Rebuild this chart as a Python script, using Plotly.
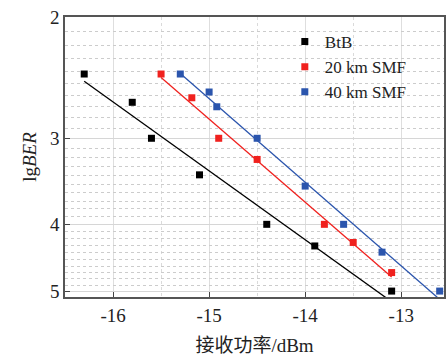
import numpy as np
import plotly.graph_objects as go

# Data (received power in dBm, -lgBER)
btb_x = [-16.3, -15.8, -15.6, -15.1, -14.4, -13.9, -13.1]
btb_y = [2.42, 2.66, 3.0, 3.39, 4.0, 4.30, 5.0]

smf20_x = [-15.5, -15.18, -14.9, -14.5, -13.8, -13.5, -13.1]
smf20_y = [2.42, 2.62, 3.0, 3.22, 4.0, 4.25, 4.70]

smf40_x = [-15.3, -15.0, -14.92, -14.5, -14.0, -13.6, -13.2, -12.6]
smf40_y = [2.42, 2.57, 2.70, 3.0, 3.52, 4.0, 4.39, 5.0]

series_names = ["BtB", "20 km SMF", "40 km SMF"]
series_colors = ["#000000", "#f0211e", "#2b55ad"]

x_ticks = [-16, -15, -14, -13]
x_tick_text = ["-16", "-15", "-14", "-13"]
y_ticks = [2, 3, 4, 5]
y_minor = [round(2 + 0.1 * i, 1) for i in range(31) if i % 10 != 0]

fig = go.Figure()

serif = "Times New Roman, Liberation Serif, serif"
yrange = [np.log10(5.1), np.log10(2)]

# invisible helper trace for the minor-grid axis
fig.add_trace(go.Scatter(x=[btb_x[0]], y=[btb_y[0]], yaxis="y2", mode="markers",
                         marker=dict(opacity=0), showlegend=False, hoverinfo="skip"))

for name, color, xs, ys in zip(series_names, series_colors,
                               [btb_x, smf20_x, smf40_x],
                               [btb_y, smf20_y, smf40_y]):
    xs = np.array(xs)
    ys = np.array(ys)
    k, b = np.polyfit(xs, np.log10(ys), 1)
    fx = np.linspace(xs.min(), xs.max(), 50)
    fy = 10 ** (k * fx + b)
    fig.add_trace(go.Scatter(x=fx, y=fy, mode="lines",
                             line=dict(color=color, width=1.3),
                             showlegend=False, hoverinfo="skip"))
    fig.add_trace(go.Scatter(x=xs, y=ys, mode="markers", name=name,
                             marker=dict(symbol="square", size=7, color=color),
                             cliponaxis=False))

fig.update_layout(
    width=446, height=356,
    margin=dict(l=65, r=0, t=17, b=59),
    plot_bgcolor="white", paper_bgcolor="white",
    font=dict(family=serif, size=18, color="#222"),
    legend=dict(x=0.58, y=0.975, xanchor="left", yanchor="top",
                bgcolor="rgba(0,0,0,0)", font=dict(size=17, family=serif),
                itemwidth=30, tracegroupgap=0),
    showlegend=True,
    xaxis=dict(
        range=[-16.5, -12.555], tickvals=x_ticks, ticktext=x_tick_text,
        ticks="inside", ticklen=5, tickwidth=1.2, tickcolor="#444",
        showline=True, linecolor="#555", linewidth=1.6, mirror=True,
        showgrid=True, gridcolor="#dedede", gridwidth=1,
        minor=dict(dtick=0.5, tick0=-16, showgrid=True, gridcolor="#dadada",
                   griddash="dot", gridwidth=1),
        zeroline=False,
        title=dict(text="接收功率/dBm",
                   font=dict(size=19, family="Times New Roman, Liberation Serif, Noto Sans CJK SC"),
                   standoff=14),
        tickfont=dict(size=19, family=serif),
    ),
    yaxis=dict(
        type="log", range=yrange,
        tickvals=y_ticks, ticktext=[str(v) for v in y_ticks],
        ticks="inside", ticklen=5, tickwidth=1.2, tickcolor="#444",
        showline=True, linecolor="#555", linewidth=1.6, mirror=True,
        showgrid=True, gridcolor="#d6d6d6", gridwidth=1,
        zeroline=False,
        title=dict(text="lg<i>BER</i>", font=dict(size=19, family=serif), standoff=8),
        tickfont=dict(size=19, family=serif),
    ),
    yaxis2=dict(type="log", range=yrange, overlaying="y", side="left",
                tickvals=y_minor, showticklabels=False, ticks="",
                showline=False, zeroline=False,
                showgrid=True, gridcolor="#cccccc", griddash="dot", gridwidth=1),
)

fig.write_html("out.html")
